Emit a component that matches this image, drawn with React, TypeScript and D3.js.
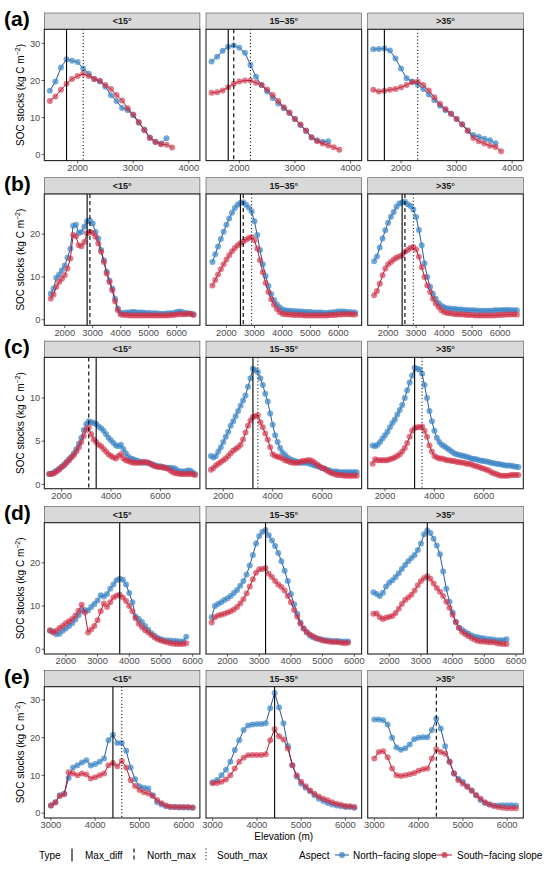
import React from 'react';
import * as d3 from 'd3';

// facet columns and row tags
const slopeClasses = ['<15°', '15–35°', '>35°'];
const rowLabels = ['(a)', '(b)', '(c)', '(d)', '(e)'];

// elevation bins (m) per row
const elevA = d3.range(1500, 3801, 100);
const elevB = d3.range(1500, 6601, 100);
const elevC = d3.range(1500, 7401, 100);
const elevD = d3.range(1500, 5801, 100);
const elevE = d3.range(3000, 6201, 100);

// axis limits and ticks per row
const xLimits = [[1400, 4200], [1270, 6830], [1300, 7600], [1320, 6230], [2850, 6365]];
const yLimits = [[-1.6, 33.8], [-1.3, 29.4], [-0.5, 14.7], [-1.1, 29.3], [-1.3, 33.5]];
const xTicks = [
  [2000, 3000, 4000],
  [2000, 3000, 4000, 5000, 6000],
  [2000, 4000, 6000],
  [2000, 3000, 4000, 5000, 6000],
  [3000, 4000, 5000, 6000],
];
const yTicks = [[0, 10, 20, 30], [0, 10, 20], [0, 5, 10], [0, 10, 20], [0, 10, 20, 30]];

// (a) SOC stocks, kg C m-2
const aN1 = [17.2, 19.7, 23.5, 25.7, 25.3, 25.0, 23.2, 21.8, 20.4, 19.7, 18.3, 16.0, 14.5, 12.6, 12.0, 10.6, 8.6, 6.8, 4.6, 3.5, 3.0, 4.4];
const aS1 = [14.5, 15.7, 17.5, 19.1, 20.4, 21.2, 21.8, 21.2, 20.4, 19.9, 18.8, 17.7, 16.1, 14.6, 12.5, 10.8, 8.8, 6.6, 4.5, 3.4, 2.8, 2.7, 1.9];
const aN2 = [25.1, 26.4, 28.0, 29.1, 29.4, 28.8, 27.5, 24.2, 21.0, 18.8, 17.0, 15.3, 13.8, 12.5, 11.2, 9.6, 8.0, 6.4, 4.6, 3.9, 3.5, 3.6];
const aS2 = [16.7, 16.8, 17.3, 18.2, 19.1, 19.7, 20.0, 20.0, 19.4, 18.8, 17.6, 16.1, 14.5, 12.8, 11.4, 9.6, 8.1, 6.5, 4.7, 3.6, 3.0, 2.5, 2.0, 1.3];
const aN3 = [28.4, 28.5, 28.6, 28.1, 25.9, 23.2, 20.6, 19.7, 18.9, 17.7, 16.2, 14.7, 13.2, 12.0, 11.0, 9.6, 8.2, 6.6, 5.3, 4.8, 4.3, 3.9, 3.1];
const aS3 = [17.5, 17.0, 17.2, 17.5, 17.7, 18.2, 18.8, 19.5, 19.7, 18.8, 17.3, 15.5, 13.7, 12.3, 11.0, 9.6, 8.1, 6.4, 4.5, 3.6, 3.0, 2.4, 2.1, 0.9];

// (b)
const bN1 = [6.1, 7.3, 9.8, 10.6, 11.6, 12.7, 14.5, 16.6, 22.0, 22.2, 20.3, 20.5, 21.8, 23.0, 23.2, 22.5, 20.5, 19.0, 16.3, 13.9, 11.2, 9.2, 7.3, 4.9, 2.6, 1.6,
  1.6, 1.7, 1.7, 1.8, 1.8, 1.7, 1.7, 1.7, 1.6, 1.6, 1.5, 1.5, 1.5, 1.4, 1.4, 1.4, 1.5, 1.5, 1.6, 1.8, 1.9, 1.8, 1.6, 1.5, 1.4, 1.3];
const bS1 = [4.9, 5.9, 7.7, 8.8, 9.6, 10.4, 12.0, 14.3, 19.8, 19.5, 17.4, 17.2, 18.2, 20.2, 20.5, 20.3, 19.4, 17.8, 15.9, 13.5, 10.8, 8.8, 6.9, 4.3, 2.2, 1.2,
  1.1, 1.1, 1.0, 1.0, 1.0, 1.0, 1.0, 1.0, 1.0, 1.0, 1.0, 1.0, 1.0, 1.0, 1.0, 1.0, 1.0, 1.1, 1.1, 1.2, 1.3, 1.3, 1.3, 1.4, 1.4, 1.1];
const bN2 = [13.5, 15.3, 17.1, 18.9, 20.6, 22.2, 23.7, 25.0, 26.1, 26.9, 27.3, 27.5, 26.9, 26.2, 25.3, 23.0, 19.8, 16.3, 13.0, 10.2, 7.9, 6.0, 4.6, 3.6, 2.9, 2.4,
  2.2, 2.1, 2.1, 2.0, 2.0, 1.9, 1.9, 1.8, 1.8, 1.8, 1.7, 1.7, 1.7, 1.7, 1.6, 1.6, 1.7, 1.7, 1.8, 1.9, 1.9, 1.9, 1.8, 1.8, 1.7, 1.7];
const bS2 = [8.0, 9.3, 10.6, 11.8, 13.0, 14.1, 15.1, 16.0, 16.8, 17.4, 17.9, 18.3, 18.7, 19.1, 19.3, 18.6, 16.6, 13.9, 11.1, 8.6, 6.5, 4.8, 3.5, 2.5, 1.8, 1.4,
  1.3, 1.2, 1.2, 1.1, 1.1, 1.1, 1.1, 1.0, 1.0, 1.0, 1.0, 1.0, 1.0, 1.0, 1.0, 1.0, 1.1, 1.1, 1.1, 1.2, 1.2, 1.3, 1.3, 1.3, 1.2, 1.2];
const bN3 = [13.7, 14.8, 16.9, 19.0, 20.9, 22.7, 24.1, 25.2, 26.4, 27.2, 27.4, 27.6, 27.0, 26.6, 25.8, 24.0, 21.0, 17.4, 13.2, 10.0, 7.7, 6.1, 4.9, 3.9, 3.3, 2.9,
  2.7, 2.6, 2.5, 2.5, 2.4, 2.4, 2.3, 2.3, 2.2, 2.2, 2.2, 2.1, 2.1, 2.1, 2.1, 2.1, 2.1, 2.2, 2.2, 2.2, 2.3, 2.3, 2.3, 2.2, 2.2, 2.2];
const bS3 = [5.7, 6.7, 8.4, 10.4, 12.0, 13.0, 13.5, 14.1, 14.5, 14.8, 15.1, 15.9, 16.3, 16.8, 17.0, 16.4, 14.7, 12.3, 10.0, 8.0, 6.5, 4.9, 3.8, 3.0, 2.2, 1.8,
  1.6, 1.5, 1.4, 1.3, 1.3, 1.2, 1.2, 1.1, 1.1, 1.1, 1.0, 1.0, 1.0, 1.0, 1.0, 1.0, 1.0, 1.0, 1.1, 1.1, 1.1, 1.2, 1.2, 1.2, 1.2, 1.2];

// (c)
const cN1 = [1.2, 1.25, 1.4, 1.6, 1.8, 2.0, 2.3, 2.6, 2.9, 3.2, 3.6, 4.1, 4.7, 5.4, 6.3, 7.0, 7.3, 7.2, 7.1, 7.0,
  6.7, 6.5, 6.2, 5.8, 5.4, 5.1, 4.8, 4.5, 4.4, 4.6, 4.1, 3.6, 3.2, 3.0, 2.9, 2.8, 2.7, 2.6, 2.5, 2.5,
  2.5, 2.4, 2.3, 2.2, 2.1, 2.1, 2.0, 1.95, 1.9, 1.9, 1.9, 1.8, 1.6, 1.5, 1.5, 1.5, 1.6, 1.6, 1.4, 1.2];
const cS1 = [1.2, 1.2, 1.3, 1.5, 1.7, 2.0, 2.2, 2.5, 2.8, 3.1, 3.4, 3.8, 4.3, 4.9, 5.6, 6.3, 6.6, 5.8, 5.2, 4.9,
  4.6, 4.4, 4.1, 3.8, 3.5, 3.3, 3.1, 3.0, 3.3, 3.5, 3.0, 2.8, 2.7, 2.6, 2.5, 2.5, 2.5, 2.5, 2.6, 2.6,
  2.5, 2.4, 2.2, 2.1, 2.0, 2.0, 1.95, 1.9, 1.8, 1.6, 1.4, 1.3, 1.25, 1.2, 1.2, 1.2, 1.2, 1.2, 1.2, 1.1];
const cN2 = [3.3, 3.1, 3.3, 3.8, 4.3, 4.9, 5.5, 6.1, 6.8, 7.3, 7.9, 8.5, 9.1, 9.7, 10.3, 11.3, 12.3, 13.4, 13.2, 13.0,
  12.3, 11.5, 10.5, 9.6, 8.2, 6.9, 5.7, 4.9, 4.2, 3.7, 3.4, 3.1, 2.9, 2.8, 2.7, 2.6, 2.5, 2.5, 2.5, 2.5,
  2.4, 2.3, 2.2, 2.1, 2.0, 1.9, 1.8, 1.7, 1.6, 1.5, 1.5, 1.5, 1.4, 1.4, 1.4, 1.4, 1.4, 1.4, 1.4, 1.4];
const cS2 = [1.7, 1.9, 2.2, 2.4, 2.6, 2.8, 3.0, 3.3, 3.6, 3.9, 4.1, 4.3, 4.6, 5.2, 6.0, 6.8, 7.4, 7.8, 7.9, 8.0,
  7.2, 6.6, 5.9, 5.2, 4.3, 3.5, 3.3, 3.2, 3.1, 3.0, 2.8, 2.7, 2.6, 2.5, 2.5, 2.5, 2.6, 2.7, 2.7, 2.8,
  2.8, 2.7, 2.5, 2.3, 2.1, 1.9, 1.8, 1.6, 1.4, 1.3, 1.2, 1.1, 1.1, 1.1, 1.0, 1.0, 1.0, 1.0, 1.0, 1.0];
const cN3 = [4.5, 4.4, 4.6, 4.9, 5.3, 5.7, 6.1, 6.6, 7.1, 7.5, 8.1, 8.6, 9.2, 10.0, 10.9, 11.8, 12.6, 13.5, 13.4, 13.3,
  12.8, 11.5, 10.0, 8.5, 7.3, 6.2, 5.4, 4.9, 4.6, 4.4, 4.2, 4.0, 3.8, 3.6, 3.5, 3.4, 3.35, 3.3, 3.2, 3.1,
  3.0, 2.95, 2.9, 2.8, 2.75, 2.7, 2.65, 2.6, 2.5, 2.45, 2.4, 2.35, 2.3, 2.25, 2.2, 2.2, 2.15, 2.1, 2.05, 2.0];
const cS3 = [2.4, 2.9, 2.8, 2.8, 2.8, 2.8, 2.8, 2.9, 3.0, 3.1, 3.3, 3.5, 3.8, 4.2, 4.8, 5.5, 6.2, 6.5, 6.6, 6.6,
  6.7, 6.2, 5.5, 4.5, 3.8, 3.3, 3.1, 3.0, 3.0, 2.9, 2.8, 2.8, 2.7, 2.7, 2.6, 2.6, 2.5, 2.5, 2.4, 2.4,
  2.3, 2.2, 2.1, 2.0, 1.9, 1.8, 1.7, 1.6, 1.4, 1.3, 1.2, 1.1, 1.0, 1.0, 1.0, 1.0, 1.1, 1.1, 1.1, 1.1];

// (d)
const dN1 = [4.3, 4.1, 3.5, 3.6, 4.3, 4.8, 5.4, 6.0, 6.9, 7.9, 8.9, 9.1, 9.0, 9.8, 10.5, 11.3, 12.5, 12.2, 12.8, 14.0,
  15.0, 16.0, 16.3, 16.1, 15.0, 13.0, 10.9, 7.6, 7.0, 6.3, 5.4, 4.5, 3.7, 3.1, 2.6, 2.3, 2.1, 2.0, 2.0, 1.9, 1.9, 1.8, 1.8, 2.9];
const dS1 = [4.4, 3.9, 4.3, 4.9, 5.4, 6.0, 6.5, 7.0, 7.8, 8.9, 10.3, 8.5, 3.9, 4.6, 5.4, 6.7, 8.8, 10.6, 9.8, 10.9,
  12.0, 12.4, 12.6, 12.0, 11.2, 10.0, 8.8, 7.2, 5.9, 5.1, 4.4, 3.9, 3.3, 2.7, 2.3, 2.0, 1.8, 1.6, 1.4, 1.3, 1.2, 1.2, 1.2, 1.4];
const dN2 = [7.4, 10.0, 10.5, 10.9, 11.4, 11.8, 12.3, 13.0, 13.7, 14.7, 15.8, 17.3, 19.4, 21.8, 24.5, 26.2, 27.2, 27.6, 26.4, 25.2,
  23.9, 22.3, 20.4, 18.2, 15.8, 12.8, 10.4, 8.2, 6.2, 4.8, 3.9, 3.2, 2.8, 2.5, 2.4, 2.2, 2.1, 2.0, 1.9, 1.9, 1.9, 1.8, 1.8, 1.8];
const dS2 = [6.2, 7.4, 7.8, 8.0, 8.2, 8.5, 8.8, 9.2, 9.8, 10.6, 11.6, 12.9, 14.5, 16.2, 17.7, 18.5, 18.6, 18.8, 17.5, 16.7,
  15.8, 15.0, 14.4, 13.6, 12.3, 10.9, 9.1, 7.5, 5.9, 4.8, 4.0, 3.4, 3.0, 2.6, 2.3, 2.0, 1.9, 1.8, 1.7, 1.7, 1.6, 1.5, 1.4, 1.5];
const dN3 = [13.2, 12.8, 12.3, 13.1, 14.5, 15.4, 16.0, 16.7, 17.6, 18.6, 19.5, 20.4, 21.1, 21.8, 23.0, 24.5, 26.6, 27.5, 26.9, 25.6,
  24.0, 22.0, 18.0, 14.0, 11.0, 8.5, 6.3, 5.0, 4.5, 4.0, 3.6, 3.2, 2.9, 2.8, 2.6, 2.5, 2.3, 2.3, 2.2, 2.1, 2.1, 2.1, 2.3];
const dS3 = [8.2, 8.3, 7.4, 7.0, 7.3, 7.5, 7.7, 8.4, 9.4, 10.5, 11.4, 12.0, 12.6, 13.6, 14.8, 15.8, 16.5, 16.9, 16.3, 15.2,
  14.2, 13.3, 12.3, 11.0, 9.6, 8.0, 6.3, 5.0, 4.0, 3.5, 3.0, 2.6, 2.2, 1.9, 1.8, 1.8, 1.7, 1.6, 1.6, 1.4, 1.3, 1.2, 1.2];

// (e)
const eN1 = [2.0, 2.9, 4.7, 5.1, 9.3, 12.1, 12.7, 13.4, 14.0, 12.6, 13.0, 13.6, 14.5, 19.3, 20.7, 18.6, 18.6, 16.5, 12.1, 9.0,
  7.1, 6.7, 6.5, 4.7, 2.9, 2.3, 1.8, 1.6, 1.6, 1.5, 1.5, 1.5, 1.4];
const eS1 = [2.0, 2.8, 4.5, 5.0, 10.8, 10.5, 10.0, 10.5, 10.2, 9.2, 9.5, 10.0, 10.5, 12.7, 13.3, 12.4, 13.8, 12.1, 8.7, 7.2,
  6.1, 5.5, 5.2, 4.5, 3.5, 2.6, 2.0, 1.7, 1.6, 1.6, 1.6, 1.6, 1.5];
const eN2 = [8.2, 8.8, 10.0, 11.5, 13.6, 16.7, 19.3, 22.0, 23.2, 23.5, 23.6, 23.6, 23.8, 27.8, 31.8, 28.0, 23.8, 17.8, 12.7, 9.6,
  7.8, 6.7, 5.8, 4.7, 3.8, 3.2, 2.7, 2.3, 2.0, 1.8, 1.6, 1.6, 1.4];
const eS2 = [7.9, 8.0, 8.3, 8.9, 10.0, 11.8, 13.6, 14.7, 15.3, 15.4, 15.4, 15.4, 15.6, 19.3, 22.2, 20.4, 19.5, 17.1, 12.7, 10.0,
  8.3, 7.1, 6.0, 5.1, 4.4, 3.8, 3.4, 2.9, 2.5, 2.2, 1.9, 1.8, 1.6];
const eN3 = [24.8, 24.8, 24.6, 23.5, 20.0, 17.4, 16.8, 17.2, 18.2, 19.6, 20.0, 20.1, 20.1, 22.0, 25.0, 22.4, 17.7, 13.6, 10.5, 9.1,
  8.3, 7.1, 6.0, 4.7, 3.5, 2.7, 2.3, 2.0, 2.0, 2.1, 2.1, 2.1, 2.0];
const eS3 = [14.5, 16.2, 16.4, 14.8, 11.8, 10.0, 9.8, 10.0, 10.3, 10.6, 11.2, 11.6, 11.8, 14.5, 16.9, 16.2, 15.8, 13.6, 10.5, 8.7,
  7.8, 6.9, 5.9, 4.7, 3.8, 2.9, 2.3, 1.9, 1.6, 1.4, 1.3, 1.3, 1.3];

// reference lines: [type, elevation] per panel
type VType = 'Max_diff' | 'North_max' | 'South_max';
const vA: [VType, number][][] = [
  [['Max_diff', 1800], ['South_max', 2100]],
  [['Max_diff', 1800], ['North_max', 1900], ['South_max', 2200]],
  [['Max_diff', 1700], ['South_max', 2300]],
];
const vB: [VType, number][][] = [
  [['Max_diff', 2800], ['North_max', 2900]],
  [['Max_diff', 2500], ['North_max', 2600], ['South_max', 2900]],
  [['Max_diff', 2500], ['North_max', 2600], ['South_max', 2900]],
];
const vC: [VType, number][][] = [
  [['North_max', 3100], ['Max_diff', 3400]],
  [['Max_diff', 3200], ['South_max', 3400]],
  [['Max_diff', 3200], ['South_max', 3500]],
];
const vD: [VType, number][][] = [
  [['Max_diff', 3700]],
  [['Max_diff', 3200]],
  [['Max_diff', 3200]],
];
const vE: [VType, number][][] = [
  [['Max_diff', 4400], ['South_max', 4600]],
  [['Max_diff', 4400]],
  [['North_max', 4400]],
];

const rows = [
  { elev: elevA, north: [aN1, aN2, aN3], south: [aS1, aS2, aS3], vlines: vA },
  { elev: elevB, north: [bN1, bN2, bN3], south: [bS1, bS2, bS3], vlines: vB },
  { elev: elevC, north: [cN1, cN2, cN3], south: [cS1, cS2, cS3], vlines: vC },
  { elev: elevD, north: [dN1, dN2, dN3], south: [dS1, dS2, dS3], vlines: vD },
  { elev: elevE, north: [eN1, eN2, eN3], south: [eS1, eS2, eS3], vlines: vE },
];

const dashFor: Record<VType, string | undefined> = {
  Max_diff: undefined,
  North_max: '4,3',
  South_max: '1,2.4',
};

const NORTH_LINE = '#1f5c9c';
const NORTH_PT = '#4088c8';
const SOUTH_LINE = '#ae1a30';
const SOUTH_PT = '#d0344a';
const FONT = '"Liberation Sans", Arial, Helvetica, sans-serif';

const colX = [44.3, 206, 367.7];
const panelW = 155.6;
const panelTop = [29.3, 194, 357.4, 522.7, 686.7];
const panelH = 131.3;
const stripH = 16.3;
const PT_R = 3;

const App: React.FC = () => {
  const W = 550;
  const H = 872;

  const panels: React.ReactNode[] = [];

  rows.forEach((row, ri) => {
    const top = panelTop[ri];
    const bottom = top + panelH;
    colX.forEach((left, ci) => {
      const x = d3.scaleLinear().domain(xLimits[ri]).range([left, left + panelW]);
      const y = d3.scaleLinear().domain(yLimits[ri]).range([bottom, top]);
      const line = d3.line<[number, number]>().x(d => x(d[0])).y(d => y(d[1]));
      const toPts = (vals: number[]) => vals.map((v, i) => [row.elev[i], v] as [number, number]);
      const nPts = toPts(row.north[ci]);
      const sPts = toPts(row.south[ci]);
      const key = `${ri}-${ci}`;

      panels.push(
        <g key={key}>
          {/* strip */}
          <rect x={left} y={top - stripH} width={panelW} height={stripH} fill="#d9d9d9" stroke="#4d4d4d" strokeWidth={0.6} />
          <text x={left + panelW / 2} y={top - stripH / 2} dy="0.36em" textAnchor="middle" fontSize={9} fontWeight="bold" fill="#1a1a1a">
            {slopeClasses[ci]}
          </text>
          <rect x={left} y={top} width={panelW} height={panelH} fill="#fff" />
          {/* series */}
          <path d={line(nPts) || ''} fill="none" stroke={NORTH_LINE} strokeWidth={1} />
          {nPts.map((p, i) => (
            <circle key={`n${i}`} cx={x(p[0])} cy={y(p[1])} r={PT_R} fill={NORTH_PT} fillOpacity={0.72} />
          ))}
          <path d={line(sPts) || ''} fill="none" stroke={SOUTH_LINE} strokeWidth={1} />
          {sPts.map((p, i) => (
            <circle key={`s${i}`} cx={x(p[0])} cy={y(p[1])} r={PT_R} fill={SOUTH_PT} fillOpacity={0.66} />
          ))}
          {/* reference lines */}
          {row.vlines[ci].map(([t, e], i) => (
            <line key={`v${i}`} x1={x(e)} x2={x(e)} y1={top} y2={bottom} stroke="#000" strokeWidth={1.1} strokeDasharray={dashFor[t]} />
          ))}
          <rect x={left} y={top} width={panelW} height={panelH} fill="none" stroke="#222" strokeWidth={1.1} />
          {/* x axis */}
          {xTicks[ri].map(t => (
            <g key={`xt${t}`}>
              <line x1={x(t)} x2={x(t)} y1={bottom} y2={bottom + 2.7} stroke="#333" strokeWidth={0.8} />
              <text x={x(t)} y={bottom + 10.3} textAnchor="middle" fontSize={9.3} fill="#4d4d4d">{t}</text>
            </g>
          ))}
          {/* y axis on first column only */}
          {ci === 0 && yTicks[ri].map(t => (
            <g key={`yt${t}`}>
              <line x1={left - 2.7} x2={left} y1={y(t)} y2={y(t)} stroke="#333" strokeWidth={0.8} />
              <text x={left - 4} y={y(t)} dy="0.35em" textAnchor="end" fontSize={9.3} fill="#4d4d4d">{t}</text>
            </g>
          ))}
        </g>
      );
    });

    const cy = top + panelH / 2;
    panels.push(
      <g key={`lab${ri}`}>
        <text x={4} y={top - 3} fontSize={21} fontWeight="bold" fill="#000">{rowLabels[ri]}</text>
        <text transform={`translate(24,${cy}) rotate(-90)`} textAnchor="middle" fontSize={10} fill="#000">
          SOC stocks (kg C m<tspan dy={-4} fontSize={7}>−2</tspan><tspan dy={4}>)</tspan>
        </text>
      </g>
    );
  });

  const legY = 855;
  return (
    <div style={{ position: 'absolute', left: 0, top: 0 }}>
      <svg width={W} height={H} fontFamily={FONT}>
        <rect width={W} height={H} fill="#fff" />
        {panels}
        <text x={283.7} y={839.5} textAnchor="middle" fontSize={10} fill="#000">Elevation (m)</text>
        {/* legend: Type */}
        <text x={39} y={legY} dy="0.35em" fontSize={10} fill="#000">Type</text>
        <line x1={72} x2={72} y1={legY - 6.5} y2={legY + 6.5} stroke="#000" strokeWidth={1.1} />
        <text x={85} y={legY} dy="0.35em" fontSize={10} fill="#000">Max_diff</text>
        <line x1={134} x2={134} y1={legY - 6.5} y2={legY + 6.5} stroke="#000" strokeWidth={1.1} strokeDasharray={dashFor.North_max} />
        <text x={147} y={legY} dy="0.35em" fontSize={10} fill="#000">North_max</text>
        <line x1={206} x2={206} y1={legY - 6.5} y2={legY + 6.5} stroke="#000" strokeWidth={1.1} strokeDasharray={dashFor.South_max} />
        <text x={217} y={legY} dy="0.35em" fontSize={10} fill="#000">South_max</text>
        {/* legend: Aspect */}
        <text x={299} y={legY} dy="0.35em" fontSize={10} fill="#000">Aspect</text>
        <line x1={335} x2={349} y1={legY} y2={legY} stroke={NORTH_LINE} strokeWidth={1} />
        <circle cx={342} cy={legY} r={PT_R} fill={NORTH_PT} fillOpacity={0.8} />
        <text x={353} y={legY} dy="0.35em" fontSize={10} fill="#000">North−facing slope</text>
        <line x1={437} x2={452} y1={legY} y2={legY} stroke={SOUTH_LINE} strokeWidth={1} />
        <circle cx={444.5} cy={legY} r={PT_R} fill={SOUTH_PT} fillOpacity={0.8} />
        <text x={457} y={legY} dy="0.35em" fontSize={10} fill="#000">South−facing slope</text>
      </svg>
    </div>
  );
};

export default App;
